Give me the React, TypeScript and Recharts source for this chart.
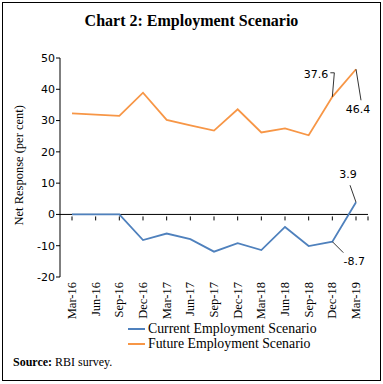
import { LineChart, Line, XAxis, YAxis, ReferenceLine, LabelList } from 'recharts';

const quarters = ['Mar-16', 'Jun-16', 'Sep-16', 'Dec-16', 'Mar-17', 'Jun-17', 'Sep-17', 'Dec-17', 'Mar-18', 'Jun-18', 'Sep-18', 'Dec-18', 'Mar-19'];
const currentEmployment = [0, 0, 0, -8.2, -6.1, -7.9, -11.9, -9.2, -11.4, -4.0, -10.1, -8.7, 3.9];
const futureEmployment = [32.3, 31.9, 31.5, 38.9, 30.2, 28.5, 26.8, 33.6, 26.2, 27.5, 25.3, 37.6, 46.4];
const yTicks = [-20, -10, 0, 10, 20, 30, 40, 50];

const W = 383;
const H = 384;
const TOP = 58;
const BOTTOM = 277;
const LEFT = 60;
const RIGHT = 368;
const PLOT_H = BOTTOM - TOP;
const ZERO_OFF = (PLOT_H * 20) / 70; // distance from plot bottom up to y=0

const SERIF = '"Liberation Serif", "DejaVu Serif", serif';
const SANS = '"DejaVu Sans", Verdana, sans-serif';

const data = quarters.map((q, i) => ({
  q,
  current: currentEmployment[i],
  future: futureEmployment[i],
}));

function XTick(props: any) {
  const { x, y, payload, index } = props;
  const zy = y - ZERO_OFF;
  return (
    <g>
      <line x1={x} x2={x} y1={zy} y2={zy + 4} stroke="#000" />
      {index === quarters.length - 1 && (
        <line x1={RIGHT} x2={RIGHT} y1={zy} y2={zy + 4} stroke="#000" />
      )}
      <text
        x={0}
        y={0}
        transform={`translate(${x + 4},${y + 3}) rotate(-90)`}
        textAnchor="end"
        fontFamily={SERIF}
        fontSize={12.5}
        fill="#000"
      >
        {payload.value}
      </text>
    </g>
  );
}

function FutureLabel(props: any) {
  const { x, y, index, value } = props;
  if (index === 11) {
    return (
      <g>
        <polyline points={`${x},${y} ${x + 2},${y - 24} ${x - 2},${y - 24}`} fill="none" stroke="#000" strokeWidth={0.8} />
        <text x={x - 4} y={y - 19} textAnchor="end" fontFamily={SANS} fontSize={11} fill="#000">{value}</text>
      </g>
    );
  }
  if (index === 12) {
    return (
      <g>
        <line x1={x} y1={y} x2={x + 5} y2={y + 31} stroke="#000" strokeWidth={0.8} />
        <text x={x + 2} y={y + 44} textAnchor="middle" fontFamily={SANS} fontSize={11} fill="#000">{value}</text>
      </g>
    );
  }
  return null;
}

function CurrentLabel(props: any) {
  const { x, y, index, value } = props;
  if (index === 12) {
    return (
      <g>
        <line x1={x} y1={y} x2={x - 6} y2={y - 17} stroke="#000" strokeWidth={0.8} />
        <text x={x - 8} y={y - 24} textAnchor="middle" fontFamily={SANS} fontSize={11} fill="#000">{value}</text>
      </g>
    );
  }
  if (index === 11) {
    return (
      <g>
        <line x1={x} y1={y} x2={x + 11} y2={y + 11} stroke="#000" strokeWidth={0.8} />
        <text x={x + 22} y={y + 23} textAnchor="middle" fontFamily={SANS} fontSize={11} fill="#000">{value}</text>
      </g>
    );
  }
  return null;
}

export default function App() {
  return (
    <div style={{ position: 'absolute', left: 0, top: 0, width: W, height: H, background: '#fff' }}>
      <div style={{ position: 'absolute', left: 2, top: 2, width: 377, height: 377, border: '1px solid #000' }} />
      <div
        style={{
          position: 'absolute', left: 0, width: W, top: 12, textAlign: 'center',
          fontFamily: SERIF, fontWeight: 'bold', fontSize: 16, color: '#000',
        }}
      >
        Chart 2: Employment Scenario
      </div>
      <div style={{ position: 'absolute', left: 0, top: 0 }}>
        <LineChart
          width={W}
          height={H}
          data={data}
          margin={{ top: TOP, right: W - RIGHT, left: 0, bottom: H - BOTTOM - 40 }}
        >
          <XAxis
            dataKey="q"
            height={40}
            axisLine={false}
            tickLine={false}
            tickSize={0}
            interval={0}
            padding={{ left: 12, right: 12 }}
            tick={<XTick />}
          />
          <YAxis
            width={LEFT}
            domain={[-20, 50]}
            ticks={yTicks}
            interval={0}
            axisLine={{ stroke: '#000' }}
            tickLine={{ stroke: '#000' }}
            tickSize={4}
            tickMargin={1}
            tick={{ fontFamily: SANS, fontSize: 11, fill: '#000' }}
            label={{
              value: 'Net Response (per cent)', angle: -90, position: 'insideLeft',
              dx: 14, dy: 58, style: { fontFamily: SERIF, fontSize: 12.5, fill: '#000' },
            }}
          />
          <ReferenceLine y={0} stroke="#000" />
          <Line dataKey="current" stroke="#4F81BD" strokeWidth={1.8} dot={false} isAnimationActive={false}>
            <LabelList dataKey="current" content={<CurrentLabel />} />
          </Line>
          <Line dataKey="future" stroke="#F79646" strokeWidth={1.8} dot={false} isAnimationActive={false}>
            <LabelList dataKey="future" content={<FutureLabel />} />
          </Line>
        </LineChart>
      </div>
      <div style={{ position: 'absolute', left: 128, top: 321, fontFamily: SERIF, fontSize: 13.8, color: '#000', lineHeight: '15px' }}>
        <div style={{ display: 'flex', alignItems: 'center' }}>
          <span style={{ display: 'inline-block', width: 17, height: 2, background: '#4F81BD', marginRight: 3 }} />
          Current Employment Scenario
        </div>
        <div style={{ display: 'flex', alignItems: 'center' }}>
          <span style={{ display: 'inline-block', width: 17, height: 2, background: '#F79646', marginRight: 3 }} />
          Future Employment Scenario
        </div>
      </div>
      <div style={{ position: 'absolute', left: 13, top: 355, fontFamily: SERIF, fontSize: 12, color: '#000' }}>
        <b>Source:</b> RBI survey.
      </div>
    </div>
  );
}
